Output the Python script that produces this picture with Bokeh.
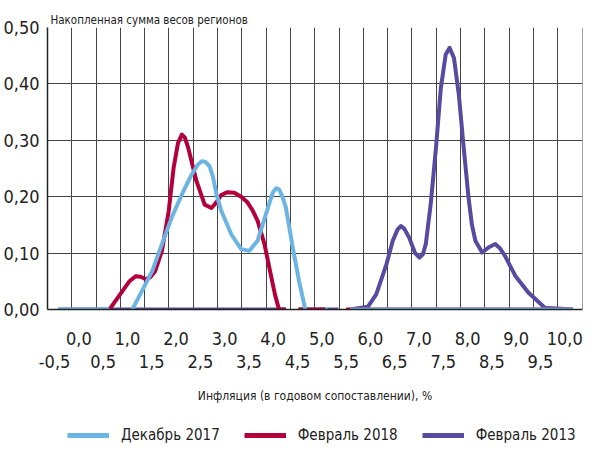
import math
from bokeh.plotting import figure
from bokeh.models import (LinearAxis, FixedTicker, Range1d, Legend, LegendItem, Grid)
from bokeh.layouts import column
from bokeh.embed import file_html
from bokeh.resources import INLINE

nan = float("nan")

# Декабрь 2017
dec2017_x = [-0.43, 0.63, nan,
             1.10, 1.30, 1.51, 1.71, 1.91, 2.12, 2.32, 2.45, 2.53, 2.60, 2.69, 2.76, 2.83, 2.93,
             3.14, 3.34, 3.51, 3.68, 3.85, 3.99, 4.06, 4.12, 4.19, 4.26, 4.39, 4.53, 4.66, nan,
             5.07, 5.13, nan, 5.58, 10.16]
dec2017_y = [0, 0, nan,
             0, 0.033, 0.068, 0.116, 0.163, 0.204, 0.239, 0.257, 0.263, 0.262, 0.254, 0.235, 0.205, 0.175,
             0.133, 0.107, 0.104, 0.122, 0.169, 0.207, 0.215, 0.213, 0.200, 0.181, 0.116, 0.051, 0, nan,
             0, 0, nan, 0, 0]

# Февраль 2018
feb2018_x = [0.63, 0.90, 1.04, 1.17, 1.27, 1.37, 1.47, 1.57, 1.71, 1.85, 1.95, 2.04, 2.12, 2.18, 2.25,
             2.42, 2.59, 2.73, 2.83, 2.93, 3.06, 3.20, 3.34, 3.47, 3.58, 3.68, 3.82, 3.95, 4.04, 4.12,
             4.26, nan, 4.52, 5.07, nan, 5.50, 10.16]
feb2018_y = [0, 0.033, 0.050, 0.059, 0.058, 0.054, 0.057, 0.068, 0.104, 0.175, 0.251, 0.295, 0.310, 0.305, 0.287,
             0.228, 0.186, 0.180, 0.190, 0.203, 0.208, 0.207, 0.200, 0.190, 0.175, 0.157, 0.116, 0.062, 0.025, 0,
             0, nan, 0, 0, nan, 0, 0]

# Февраль 2013
feb2013_x = [-0.43, 4.26, nan, 4.52, 5.34, nan,
             5.58, 5.95, 6.12, 6.33, 6.46, 6.56, 6.63, 6.70, 6.80, 6.92, 7.01, 7.08, 7.14, 7.24, 7.35,
             7.45, 7.55, 7.63, 7.72, 7.82, 7.92, 8.02, 8.09, 8.16, 8.30, 8.43, 8.57, 8.67, 8.77, 8.98,
             9.25, 9.59, 10.16]
feb2013_y = [0, 0, nan, 0, 0, nan,
             0, 0.005, 0.027, 0.080, 0.122, 0.142, 0.148, 0.143, 0.127, 0.100, 0.092, 0.098, 0.116, 0.186, 0.287,
             0.393, 0.452, 0.464, 0.446, 0.381, 0.287, 0.198, 0.150, 0.122, 0.101, 0.110, 0.116, 0.108, 0.095, 0.060,
             0.030, 0.003, 0]

series_names = ["Декабрь 2017", "Февраль 2018", "Февраль 2013"]
y_ticks = [0.0, 0.1, 0.2, 0.3, 0.4, 0.5]
y_labels = ["0,00", "0,10", "0,20", "0,30", "0,40", "0,50"]
x_ticks_row1 = [0, 1, 2, 3, 4, 5, 6, 7, 8, 9, 10]
x_ticks_row2 = [-0.5, 0.5, 1.5, 2.5, 3.5, 4.5, 5.5, 6.5, 7.5, 8.5, 9.5]

title_text = "Накопленная сумма весов регионов"
x_title = "Инфляция (в годовом сопоставлении), %"

FONT = "DejaVu Sans Condensed, sans-serif"
TXT = "#222222"
GRID = "#444444"
BLUE = "#6cb4e4"
RED = "#b3003b"
PURPLE = "#574aa0"

x_start, x_end = -0.645, 10.365

p = figure(width=586, height=418, output_backend="svg", toolbar_location=None,
           x_axis_type=None, y_axis_type=None,
           x_range=Range1d(x_start, x_end), y_range=Range1d(0, 0.5),
           min_border_left=41, min_border_right=4, min_border_top=27, min_border_bottom=109)
p.outline_line_color = None
p.background_fill_color = "white"
p.xgrid.visible = False
p.ygrid.visible = False

p.title.text = title_text
p.title.text_font = FONT
p.title.text_font_size = "11.5px"
p.title.text_font_style = "normal"
p.title.text_color = TXT
p.title.align = "left"
p.title.offset = 3
p.title.standoff = 2

# y axis
yax = LinearAxis(ticker=FixedTicker(ticks=y_ticks))
yax.major_label_overrides = {t: l for t, l in zip(y_ticks, y_labels)}
yax.major_label_text_font = FONT
yax.major_label_text_font_size = "18px"
yax.major_label_text_color = TXT
yax.major_tick_line_color = None
yax.minor_tick_line_color = None
yax.axis_line_color = "#222222"
yax.axis_line_width = 1.5
yax.major_label_standoff = 2
p.add_layout(yax, "left")

# x axes (two staggered rows)
xax1 = LinearAxis(ticker=FixedTicker(ticks=x_ticks_row1))
xax1.major_label_overrides = {t: f"{t:.1f}".replace(".", ",") for t in x_ticks_row1}
xax2 = LinearAxis(ticker=FixedTicker(ticks=x_ticks_row2), axis_label=x_title)
xax2.major_label_overrides = {t: f"{t:.1f}".replace(".", ",") for t in x_ticks_row2}
for ax in (xax1, xax2):
    ax.major_label_text_font = FONT
    ax.major_label_text_font_size = "18px"
    ax.major_label_text_color = TXT
    ax.major_tick_line_color = None
    ax.minor_tick_line_color = None
xax1.major_label_standoff = 16
xax2.major_label_standoff = 1
xax1.axis_line_color = "#222222"
xax1.axis_line_width = 1.5
xax2.axis_line_color = None
xax2.axis_label_text_font = FONT
xax2.axis_label_text_font_size = "12px"
xax2.axis_label_text_font_style = "normal"
xax2.axis_label_text_color = TXT
xax2.axis_label_standoff = 18
p.add_layout(xax1, "below")
p.add_layout(xax2, "below")

# grids
grid_x = [x_start + 0.5 * k for k in range(23)]
vg = Grid(dimension=0, ticker=FixedTicker(ticks=grid_x), grid_line_color=GRID, grid_line_width=1)
hg = Grid(dimension=1, ticker=FixedTicker(ticks=y_ticks), grid_line_color=GRID, grid_line_width=1)
p.add_layout(vg)
p.add_layout(hg)

r13 = p.line(feb2013_x, feb2013_y, line_color=PURPLE, line_width=4, line_join="round")
r18 = p.line(feb2018_x, feb2018_y, line_color=RED, line_width=4, line_join="round")
r17 = p.line(dec2017_x, dec2017_y, line_color=BLUE, line_width=4, line_join="round")

# legend strip below the chart (series re-drawn outside its visible range, only the legend shows)
lf = figure(width=586, height=27, output_backend="svg", toolbar_location=None,
            x_axis_type=None, y_axis_type=None, x_range=Range1d(x_start, x_end), y_range=Range1d(5, 6),
            min_border=0)
lf.outline_line_color = None
lf.xgrid.visible = False
lf.ygrid.visible = False
l17 = lf.line(dec2017_x, dec2017_y, line_color=BLUE, line_width=5)
l18 = lf.line(feb2018_x, feb2018_y, line_color=RED, line_width=5)
l13 = lf.line(feb2013_x, feb2013_y, line_color=PURPLE, line_width=5)

legend = Legend(items=[LegendItem(label=series_names[0], renderers=[l17]),
                       LegendItem(label=series_names[1], renderers=[l18]),
                       LegendItem(label=series_names[2], renderers=[l13])],
                orientation="horizontal", location=(20, 0))
legend.label_text_font = FONT
legend.label_text_font_size = "15px"
legend.label_text_color = TXT
legend.glyph_width = 42
legend.label_standoff = 12
legend.spacing = 24
legend.padding = 0
legend.margin = 0
legend.border_line_color = None
legend.background_fill_alpha = 0
lf.add_layout(legend, "center")

layout = column(p, lf, spacing=0)
open("out.html", "w").write(file_html(layout, INLINE))
